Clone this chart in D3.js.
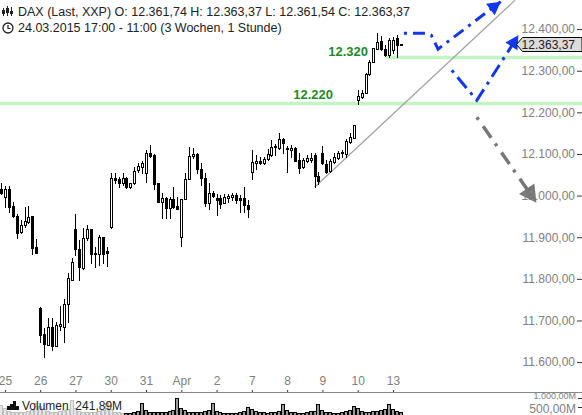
<!DOCTYPE html>
<html><head><meta charset="utf-8">
<script src="https://cdn.jsdelivr.net/npm/d3@7"></script>
<style>body{margin:0;background:#fff;} svg{display:block;font-family:"Liberation Sans",Arial,sans-serif;}</style>
</head><body><svg id="c" width="582" height="415"></svg>
<script>
// ---- data (hourly DAX candles, 24.03.2015 17:00 - 13.04.2015 11:00) ----
const opens  = [12015,11996,12015,11975,11951,11912,11929,11936,11951,11876,
  11730,11667,11641,11684,11639,11687,11684,11740,11797,
  11920,11871,11826,11898,11920,11859,11859,11900,11867,
  11924,12042,12040,12030,12042,12020,12030,12061,12068,
  12054,12102,12097,12030,11984,11994,11970,11992,11975,
  11900,11992,12040,12095,12099,12064,12042,11982,12006,
  11994,11994,11982,11994,11996,12001,11994,11994,11977,
  12056,12078,12083,12078,12088,12097,12116,12114,12136,
  12114,12109,12114,12085,12068,12083,12085,12097,12047,
  12102,12076,12059,12080,12090,12102,12099,12128,12138,
  12229,12236,12246,12292,12320,12352,12371,12352,12337,
  12349,12378,12361.74];
const highs  = [12030,12023,12023,11984,11955,11941,11972,11975,11951,11895,
  11732,11682,11706,11706,11696,11735,11752,11814,11850,
  11955,11893,11922,11929,11920,11876,11905,11900,11876,
  12054,12054,12044,12054,12044,12030,12068,12078,12082,
  12109,12121,12099,12030,12006,11996,11996,12020,11996,
  11992,12054,12116,12114,12102,12078,12054,12030,12011,
  12003,12001,12003,12003,12006,12006,12001,12020,11989,
  12109,12097,12092,12092,12112,12133,12124,12150,12138,
  12119,12121,12116,12102,12090,12097,12102,12102,12056,
  12119,12085,12088,12102,12107,12109,12136,12150,12169,
  12253,12253,12294,12325,12354,12390,12383,12361,12378,
  12380,12385,12363.37];
const lows   = [12003,11972,11960,11948,11898,11910,11924,11934,11859,11862,
  11648,11612,11641,11629,11639,11677,11648,11696,11797,
  11857,11797,11824,11893,11838,11828,11833,11838,11831,
  11922,12030,12020,12025,12018,12018,12027,12056,12054,
  12032,12092,12015,11984,11946,11946,11946,11970,11967,
  11879,11992,12040,12090,12054,12025,11975,11967,11996,
  11953,11970,11982,11984,11989,11982,11960,11960,11948,
  12040,12064,12076,12076,12085,12095,12097,12112,12102,
  12056,12092,12083,12054,12066,12080,12080,12020,12028,
  12076,12054,12056,12078,12088,12092,12092,12126,12138,
  12220,12234,12246,12289,12320,12352,12349,12335,12332,
  12342,12332,12361.54];
const closes = [12006,12015,11972,11951,11910,11929,11939,11948,11874,11862,
  11665,11643,11684,11639,11689,11691,11740,11802,11840,
  11871,11828,11898,11920,11859,11862,11900,11859,11862,
  12042,12037,12030,12042,12020,12030,12059,12071,12078,
  12102,12095,12027,11984,11994,11970,11992,11972,11967,
  11992,12040,12095,12099,12064,12042,11982,12006,11999,
  11989,11980,11996,11999,12001,11989,11989,11977,11967,
  12080,12083,12078,12088,12099,12116,12119,12136,12126,
  12112,12114,12083,12066,12085,12090,12090,12047,12035,
  12078,12056,12083,12092,12102,12104,12131,12140,12169,
  12239,12246,12292,12320,12354,12368,12352,12337,12373,
  12375,12361,12363.37];
const volumes = [600,
  450,300,250,200,220,250,300,350,720,
  550,400,300,250,230,280,350,400,900,
  450,300,250,220,200,230,280,350,750,
  400,250,200,180,160,180,230,280,720,
  350,250,220,200,200,230,280,330,1000,
  450,330,250,220,200,230,280,320,720,
  300,220,180,150,150,180,220,260,500,
  400,280,220,200,180,200,240,280,670,
  350,250,200,180,180,200,260,300,670,
  350,250,200,180,170,200,280,330,560,
  430,300,250,250,280,300,350,400,670,
  400,300,241.89];
const dayLabels   = ["25","26","27","30","31","Apr","2","7","8","9","10","13"];
const dayStartIdx = [1,10,19,28,37,46,55,64,73,82,91,100];
const priceTicks  = [11600,11700,11800,11900,12000,12100,12200,12300,12400];
const volTicks    = [500,1000];
const levelValues = [12221,12332];
const levelLabels = ["12.220","12.320"];
const levelStartIdx = [-1,98.2];
const lastPrice = 12363.37;
// annotation paths in (candle index, price) space
const trendPts = [[80,12020],[131.1,12469]];
const bluePath1 = [[102.8,12390],[108.6,12390],[109.8,12385],[111.5,12352],[127.5,12466]];
const bluePath2 = [[115,12301],[121.4,12229],[132,12385]];
const grayPath  = [[121.4,12188],[136.6,11983]];

const W = 582, H = 415;
const svg = d3.select("#c");
const x = d3.scaleLinear().domain([0,102]).range([1,400.8]);
const y = d3.scaleLinear().domain([11600,12400]).range([362.1,29.1]);
const yv = d3.scaleLinear().domain([0,1000]).range([416,398]);
const de = d3.formatLocale({decimal:",",thousands:".",grouping:[3],currency:["",""]});
const fmt2 = de.format(",.2f");

// support levels
levelValues.forEach((v,i)=>{
  svg.append("line").attr("x1", levelStartIdx[i] < 0 ? 0 : x(levelStartIdx[i])).attr("x2",W)
    .attr("y1",y(v)).attr("y2",y(v)).attr("stroke","#c4f4c4").attr("stroke-width",3.5);
});
svg.append("text").attr("x",333).attr("y",y(levelValues[0])-5).attr("text-anchor","end")
  .attr("font-size",13).attr("font-weight","bold").attr("fill","#238a23").text(levelLabels[0]);
svg.append("text").attr("x",368).attr("y",y(levelValues[1])-1).attr("text-anchor","end")
  .attr("font-size",13).attr("font-weight","bold").attr("fill","#238a23").text(levelLabels[1]);

// trend line
svg.append("line").attr("x1",x(trendPts[0][0])).attr("y1",y(trendPts[0][1]))
  .attr("x2",x(trendPts[1][0])).attr("y2",y(trendPts[1][1]))
  .attr("stroke","#a0a0a0").attr("stroke-width",1.2);

// candles
const n = opens.length;
const g = svg.append("g");
for (let i=0;i<n;i++){
  const cx = Math.round(x(i));
  const o=opens[i], c=closes[i];
  g.append("line").attr("x1",cx+0.5).attr("x2",cx+0.5)
    .attr("y1",Math.round(y(highs[i]))).attr("y2",Math.round(y(lows[i]))+1)
    .attr("stroke","#000").attr("stroke-width",1);
  const top = Math.round(y(Math.max(o,c))), bot = Math.round(y(Math.min(o,c)));
  const up = c>=o;
  g.append("rect").attr("x",cx-0.5).attr("y",top+0.5).attr("width",2)
    .attr("height",Math.max(0,bot-top)).attr("fill",up?"#fff":"#000")
    .attr("stroke","#000").attr("stroke-width",1);
}

// annotations
function arrowHead(pts, size, color){
  const [a,b] = pts.slice(-2).map(p=>[x(p[0]),y(p[1])]);
  const ang = Math.atan2(b[1]-a[1], b[0]-a[0]);
  const p1=[b[0]-size*Math.cos(ang)+size*0.55*Math.sin(ang), b[1]-size*Math.sin(ang)-size*0.55*Math.cos(ang)];
  const p2=[b[0]-size*Math.cos(ang)-size*0.55*Math.sin(ang), b[1]-size*Math.sin(ang)+size*0.55*Math.cos(ang)];
  svg.append("path").attr("d",`M${b[0]},${b[1]}L${p1[0]},${p1[1]}L${p2[0]},${p2[1]}Z`).attr("fill",color);
}
const lineGen = d3.line().x(d=>x(d[0])).y(d=>y(d[1]));
svg.append("path").attr("d",lineGen(bluePath1)).attr("fill","none").attr("stroke","#1036f0")
  .attr("stroke-width",3).attr("stroke-dasharray","3,6,12,6");
arrowHead(bluePath1,13,"#1036f0");
svg.append("path").attr("d",lineGen(bluePath2)).attr("fill","none").attr("stroke","#1036f0")
  .attr("stroke-width",3).attr("stroke-dasharray","3,6,14,6");
arrowHead(bluePath2,13,"#1036f0");
svg.append("path").attr("d",lineGen(grayPath)).attr("fill","none").attr("stroke","#777")
  .attr("stroke-width",3.5).attr("stroke-dasharray","3,8,14,7");
arrowHead(grayPath,17,"#777");

// price axis
const yAxis = d3.axisLeft(y).tickValues(priceTicks).tickFormat(fmt2).tickSize(5).tickPadding(2);
const ya = svg.append("g").attr("transform",`translate(${W},0)`).call(yAxis);
ya.select(".domain").remove();
ya.selectAll(".tick line").attr("stroke","#333");
ya.selectAll("text").attr("fill","#808080").attr("font-size",12).attr("font-family","Liberation Sans, Arial, sans-serif");

// last price box
const ly = Math.round(y(lastPrice));
svg.append("path").attr("d",`M516.5,${ly+0.5}L522.5,${ly-6.5}L582,${ly-6.5}L582,${ly+7.5}L522.5,${ly+7.5}Z`)
  .attr("fill","#dcdcdc").attr("stroke","#000").attr("stroke-width",1);
svg.append("text").attr("x",575).attr("y",ly+5).attr("text-anchor","end").attr("font-size",12)
  .attr("fill","#222").text(fmt2(lastPrice));

// x axis
const xAxis = d3.axisTop(x).tickValues(dayStartIdx).tickFormat((d,i)=>dayLabels[i]).tickSize(3).tickPadding(5);
const xa = svg.append("g").attr("transform","translate(0,393)").call(xAxis);
xa.select(".domain").remove();
xa.selectAll(".tick line").attr("stroke","#333");
xa.selectAll("text").attr("fill","#808080").attr("font-size",12).attr("font-family","Liberation Sans, Arial, sans-serif");
svg.append("line").attr("x1",0).attr("x2",W).attr("y1",392.5).attr("y2",392.5).attr("stroke","#888");

// volume
svg.append("clipPath").attr("id","vclip").append("rect").attr("x",0).attr("y",393).attr("width",W).attr("height",22);
const vg = svg.append("g").attr("clip-path","url(#vclip)");
volumes.forEach((v,i)=>{
  const cx = Math.round(x(i));
  const t = Math.round(yv(v));
  vg.append("rect").attr("x",cx-1.5).attr("y",t+0.5).attr("width",3).attr("height",Math.max(0,416-t))
    .attr("fill","#999").attr("stroke","#000").attr("stroke-width",1);
});
const yva = d3.axisLeft(yv).tickValues(volTicks).tickFormat(d=>fmt2(d)+"M").tickSize(4).tickPadding(2);
const va = vg.append("g").attr("transform",`translate(${W},0)`).call(yva);
va.select(".domain").remove();
va.selectAll(".tick line").attr("stroke","#333");
va.selectAll("text").attr("fill","#808080").attr("font-size",12).attr("font-family","Liberation Sans, Arial, sans-serif");
va.selectAll(".tick").filter(d=>d===1000).select("text").attr("font-size",9).attr("dy","0.1em");
va.selectAll(".tick").filter(d=>d===500).select("text").attr("dy","0.45em");
// volume legend
svg.append("rect").attr("x",0).attr("y",395).attr("width",124).attr("height",20).attr("fill","#fff").attr("fill-opacity",0.75);
svg.append("path").attr("d","M7,410h12v-4h-3v-5h-3v3h-3v2h-3z").attr("fill","#111");
svg.append("text").attr("x",22).attr("y",410).attr("font-size",12).attr("fill","#222")
  .style("white-space","pre").text("Volumen  241,89M");

// header
const hd = svg.append("g").attr("fill","#222").attr("font-size",12.5).style("white-space","pre");
hd.append("path").attr("d","M3,8h1v8h-1zM2,10h3v4h-3zM7,6h1v10h-1zM6,8h3v5h-3zM11,7h1v9h-1zM10,11h3v3h-3z").attr("fill","#222");
hd.append("text").attr("x",18).attr("y",16).text("DAX (Last, XXP)  O: 12.361,74  H: 12.363,37  L: 12.361,54  C: 12.363,37");
hd.append("circle").attr("cx",8).attr("cy",28).attr("r",5).attr("fill","none").attr("stroke","#222").attr("stroke-width",1.3);
hd.append("path").attr("d","M8,25v3.5h2.5").attr("fill","none").attr("stroke","#222").attr("stroke-width",1.2);
hd.append("text").attr("x",18).attr("y",32).text("24.03.2015 17:00 - 11:00 (3 Wochen, 1 Stunde)");
</script></body></html>
